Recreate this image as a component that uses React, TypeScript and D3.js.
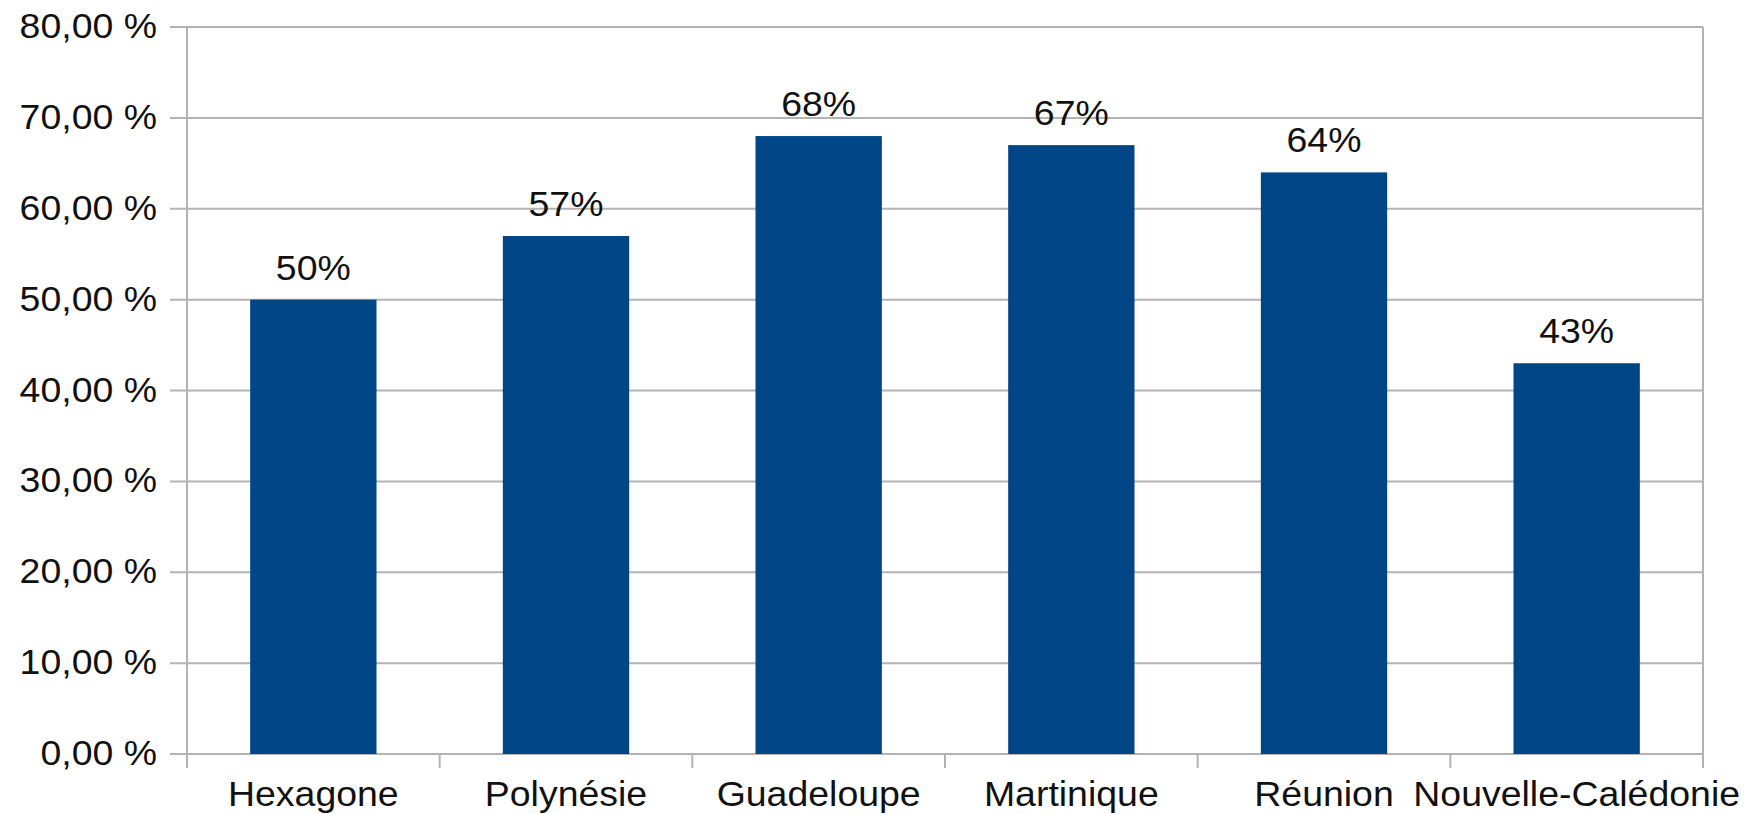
import React from "react";
import * as d3 from "d3";

const categories = ["Hexagone", "Polynésie", "Guadeloupe", "Martinique", "Réunion", "Nouvelle-Calédonie"];
const values = [50, 57, 68, 67, 64, 43];
const yTicks = [0, 10, 20, 30, 40, 50, 60, 70, 80];

const W = 1756;
const H = 814;
const left = 187;
const right = 1703;
const top = 27;
const bottom = 754;
const FONT = "'Liberation Sans', Arial, sans-serif";
const SX = 1.07;

export default function App() {
  const x = d3.scaleBand<string>().domain(categories).range([left, right]).paddingInner(0.5).paddingOuter(0.25);
  const y = d3.scaleLinear().domain([0, 80]).range([bottom, top]);
  const fmt = (v: number) => v.toFixed(2).replace(".", ",") + " %";
  const step = (right - left) / categories.length;
  const catTicks = d3.range(categories.length + 1).map((i) => left + i * step);

  const txt = (tx: number, ty: number, s: string, anchor: string, key: string) => (
    <text
      key={key}
      transform={`translate(${tx},${ty}) scale(${SX},1)`}
      textAnchor={anchor}
      fontFamily={FONT}
      fontSize={35}
      fill="#111"
    >
      {s}
    </text>
  );

  return (
    <svg width={W} height={H} style={{ position: "absolute", left: 0, top: 0, background: "#fff" }}>
      {yTicks.map((t) => (
        <line key={"g" + t} x1={170} x2={right} y1={y(t)} y2={y(t)} stroke="#b3b3b3" strokeWidth={2} />
      ))}
      <line x1={left} x2={left} y1={top} y2={bottom + 14} stroke="#b3b3b3" strokeWidth={2} />
      <line x1={right} x2={right} y1={top} y2={bottom + 14} stroke="#b3b3b3" strokeWidth={2} />
      {catTicks.map((cx, i) => (
        <line key={"ct" + i} x1={cx} x2={cx} y1={bottom} y2={bottom + 14} stroke="#b3b3b3" strokeWidth={2} />
      ))}
      {categories.map((c, i) => (
        <rect key={c} x={x(c)!} width={x.bandwidth()} y={y(values[i])} height={y(0) - y(values[i])} fill="#004586" />
      ))}
      {categories.map((c, i) => txt(x(c)! + x.bandwidth() / 2, y(values[i]) - 20, values[i] + "%", "middle", "v" + c))}
      {yTicks.map((t) => txt(157, y(t) + 11, fmt(t), "end", "yl" + t))}
      {categories.map((c) => txt(x(c)! + x.bandwidth() / 2, 806, c, "middle", "cl" + c))}
    </svg>
  );
}
